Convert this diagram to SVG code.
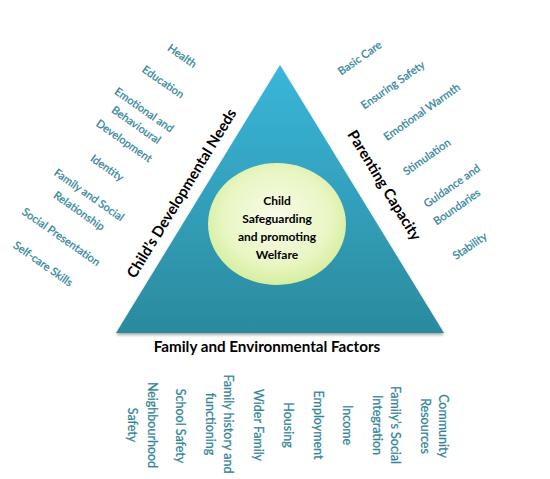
<svg xmlns="http://www.w3.org/2000/svg" width="550" height="479" viewBox="0 0 550 479">
<defs>
<linearGradient id="tri" x1="0" y1="0" x2="0" y2="1">
<stop offset="0" stop-color="#3AB6DA"/>
<stop offset="1" stop-color="#2B8A9D"/>
</linearGradient>
<radialGradient id="circ" cx="0.5" cy="0.45" r="0.55">
<stop offset="0" stop-color="#F8FCE8"/>
<stop offset="0.7" stop-color="#E9F6C4"/>
<stop offset="1" stop-color="#D6EE9E"/>
</radialGradient>
<filter id="sh" x="-10%" y="-10%" width="120%" height="130%">
<feGaussianBlur in="SourceAlpha" stdDeviation="1.5"/>
<feOffset dx="0" dy="2" result="b"/>
<feComponentTransfer><feFuncA type="linear" slope="0.35"/></feComponentTransfer>
<feMerge><feMergeNode/><feMergeNode in="SourceGraphic"/></feMerge>
</filter>
</defs>
<style>
.head{font-family:Lato,"Liberation Sans",sans-serif;font-weight:bold;fill:#000;font-size:15px;text-anchor:middle}
.lab{font-family:Lato,"Liberation Sans",sans-serif;fill:#31849B;stroke:#31849B;stroke-width:0.25px;font-size:11px;text-anchor:middle}
.bot{font-family:Lato,"Liberation Sans",sans-serif;fill:#31849B;stroke:#31849B;stroke-width:0.25px;font-size:12.5px;text-anchor:middle}
.ctr{font-family:Lato,"Liberation Sans",sans-serif;font-weight:bold;fill:#000;font-size:12px;text-anchor:middle}
</style>
<rect width="550" height="479" fill="#fff"/>
<g id="triangle">
<polygon points="280,65 116,333 444,333" fill="url(#tri)" filter="url(#sh)"/>
</g>
<g id="centre">
<ellipse cx="277" cy="224" rx="69" ry="61" fill="url(#circ)"/>
<text class="ctr" x="277" y="205">Child</text>
<text class="ctr" x="277" y="223">Safeguarding</text>
<text class="ctr" x="277" y="241">and promoting</text>
<text class="ctr" x="277" y="259">Welfare</text>
</g>
<g id="child-needs">
<text class="head" transform="translate(186,196) rotate(-58.5)">Child’s Developmental Needs</text>
<text class="lab" transform="translate(180,59) rotate(35)">Health</text>
<text class="lab" transform="translate(161,85) rotate(35)">Education</text>
<text class="lab" transform="translate(142,113) rotate(35)">Emotional and</text>
<text class="lab" transform="translate(134,128) rotate(35)">Behavioural</text>
<text class="lab" transform="translate(122,144) rotate(35)">Development</text>
<text class="lab" transform="translate(105,171) rotate(35)">Identity</text>
<text class="lab" transform="translate(87,198) rotate(35)">Family and Social</text>
<text class="lab" transform="translate(77,214) rotate(35)">Relationship</text>
<text class="lab" transform="translate(59,240) rotate(35)">Social Presentation</text>
<text class="lab" transform="translate(41,267) rotate(35)">Self-care Skills</text>
</g>
<g id="parenting">
<text class="head" transform="translate(380,188) rotate(58.5)">Parenting Capacity</text>
<text class="lab" transform="translate(362,61) rotate(-35)">Basic Care</text>
<text class="lab" transform="translate(395,88) rotate(-35)">Ensuring Safety</text>
<text class="lab" transform="translate(424,115) rotate(-35)">Emotional Warmth</text>
<text class="lab" transform="translate(429,160) rotate(-35)">Stimulation</text>
<text class="lab" transform="translate(454,189) rotate(-35)">Guidance and</text>
<text class="lab" transform="translate(459,210) rotate(-35)">Boundaries</text>
<text class="lab" transform="translate(472,249) rotate(-35)">Stability</text>
</g>
<g id="family">
<text class="head" x="267" y="352" style="font-size:15.2px">Family and Environmental Factors</text>
<text class="bot" transform="translate(147.6,425) rotate(90)">Neighbourhood</text>
<text class="bot" transform="translate(127.6,425) rotate(90)">Safety</text>
<text class="bot" transform="translate(175.6,426) rotate(90)">School Safety</text>
<text class="bot" transform="translate(223.6,424) rotate(90)">Family history and</text>
<text class="bot" transform="translate(205.6,424) rotate(90)">functioning</text>
<text class="bot" transform="translate(253.6,425) rotate(90)">Wider Family</text>
<text class="bot" transform="translate(283.6,425) rotate(90)">Housing</text>
<text class="bot" transform="translate(313.6,425) rotate(90)">Employment</text>
<text class="bot" transform="translate(342.6,425) rotate(90)">Income</text>
<text class="bot" transform="translate(390.6,425) rotate(90)">Family’s Social</text>
<text class="bot" transform="translate(372.6,425) rotate(90)">Integration</text>
<text class="bot" transform="translate(438.6,426) rotate(90)">Community</text>
<text class="bot" transform="translate(420.6,426) rotate(90)">Resources</text>
</g>
</svg>
